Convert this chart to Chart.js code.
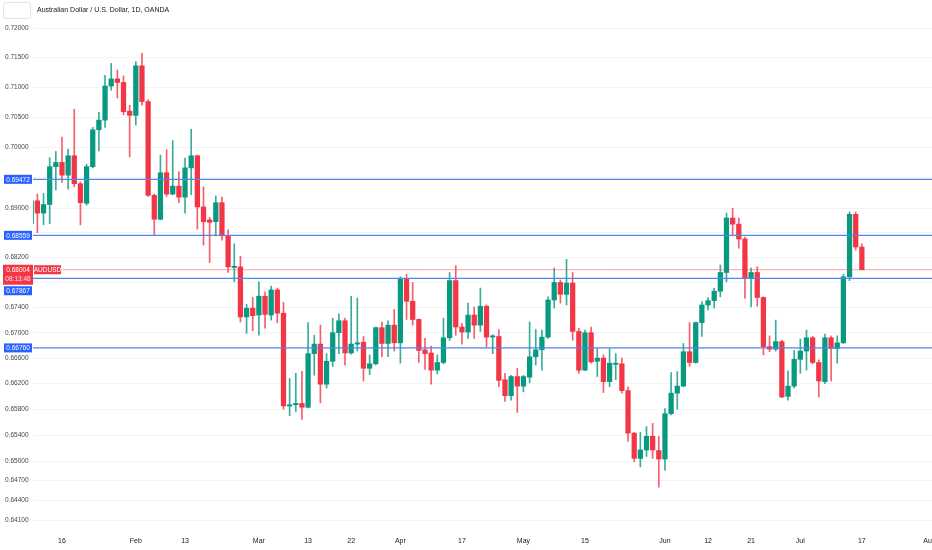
<!DOCTYPE html>
<html lang="en">
  <head>
    <meta charset="UTF-8" />
    <title>AUDUSD 1D</title>
    <style>
      html,
      body {
        margin: 0;
        padding: 0;
        background: #ffffff;
      }
      #wrap {
        position: relative;
        width: 932px;
        height: 550px;
      }
      #chart {
        position: absolute;
        left: 0;
        top: 0;
      }
      .logo {
        position: absolute;
        left: 3px;
        top: 2px;
        width: 26px;
        height: 15px;
        border: 1px solid #e0e3eb;
        border-radius: 3px;
        background: #fff;
      }
      .title {
        position: absolute;
        left: 37px;
        top: 6px;
        font: 7px "Liberation Sans", Arial, sans-serif;
        color: #131722;
        white-space: nowrap;
      }
    </style>
  </head>

  <body>
    <div id="wrap">
      <canvas id="chart" width="932" height="550"></canvas>
      <div class="logo"></div>
      <div class="title">Australian Dollar / U.S. Dollar, 1D, OANDA</div>
    </div>

    <script src="https://cdn.jsdelivr.net/npm/chart.js@4.4.1/dist/chart.umd.min.js"></script>

    <script>
      // daily candles, 9 Jan .. 17 Jul (one entry per trading day)
      const openP = [
        0.6875, 0.6912, 0.6892, 0.6906, 0.6968,
        0.6975, 0.6954, 0.6986, 0.694, 0.6908,
        0.6968, 0.7029, 0.7045, 0.7102, 0.7114,
        0.7108, 0.706, 0.7053, 0.7136, 0.7076,
        0.6921, 0.6882, 0.6958, 0.6923, 0.6936,
        0.6918, 0.6966, 0.6986, 0.6902, 0.6881,
        0.6878, 0.6909, 0.6855, 0.6804, 0.6805,
        0.6725, 0.6739, 0.6728, 0.6758, 0.6728,
        0.6768, 0.6731, 0.6585, 0.6587, 0.6589,
        0.6583, 0.6667, 0.6682, 0.6619, 0.6655,
        0.67, 0.6719, 0.6668, 0.6682, 0.6685,
        0.6644, 0.6651, 0.6708, 0.6683, 0.6712,
        0.6684, 0.6785, 0.675, 0.6721, 0.6673,
        0.6668, 0.6641, 0.6653, 0.6692, 0.6783,
        0.6709, 0.6701, 0.6728, 0.6712, 0.6742,
        0.6693, 0.6694, 0.6626, 0.6601, 0.6631,
        0.6616, 0.663, 0.6662, 0.6673, 0.6693,
        0.6752, 0.678, 0.6761, 0.6779, 0.6702,
        0.6641, 0.67, 0.6655, 0.666, 0.6623,
        0.665, 0.6651, 0.6609, 0.6543, 0.6504,
        0.6517, 0.6538, 0.6516, 0.6503, 0.6573,
        0.6605, 0.6616, 0.667, 0.6653, 0.6716,
        0.6744, 0.6751, 0.6766, 0.6796, 0.6884,
        0.6874, 0.685, 0.6787, 0.6796, 0.6756,
        0.6678, 0.6674, 0.6686, 0.66, 0.6616,
        0.6658, 0.6671, 0.6692, 0.6653, 0.6623,
        0.6692, 0.6675, 0.6684, 0.6789, 0.689,
        0.6837
      ];
      const highP = [
        0.6915, 0.6923, 0.6924, 0.6983, 0.6993,
        0.7017, 0.6997, 0.7063, 0.6943, 0.6972,
        0.7033, 0.7058, 0.712, 0.714, 0.7129,
        0.7119, 0.707, 0.7143, 0.7157, 0.7079,
        0.6923, 0.6987, 0.6996, 0.7011, 0.696,
        0.6982, 0.703, 0.6987, 0.6935, 0.6885,
        0.692, 0.6918, 0.6865, 0.6842, 0.6822,
        0.6745, 0.6756, 0.6781, 0.6765, 0.6774,
        0.6771, 0.6748, 0.6628, 0.6636, 0.6639,
        0.6716, 0.6696, 0.6712, 0.6667, 0.6723,
        0.673, 0.6723, 0.6758, 0.6755, 0.6694,
        0.6665, 0.6709, 0.6717, 0.6719, 0.6737,
        0.6789, 0.6793, 0.678, 0.6722, 0.6691,
        0.6679, 0.6665, 0.6723, 0.6796, 0.6807,
        0.6715, 0.6747, 0.6741, 0.6771, 0.6744,
        0.6697, 0.6705, 0.6636, 0.6633, 0.6644,
        0.6633, 0.6717, 0.6705, 0.6704, 0.6757,
        0.6803, 0.6784, 0.6817, 0.6796, 0.6707,
        0.6704, 0.6709, 0.6675, 0.6665, 0.6675,
        0.6667, 0.666, 0.6615, 0.6544, 0.6544,
        0.6553, 0.6558, 0.6538, 0.6581, 0.6637,
        0.6639, 0.6683, 0.6716, 0.6717, 0.6749,
        0.6756, 0.6771, 0.6808, 0.6892, 0.69,
        0.6884, 0.6853, 0.6803, 0.6805, 0.6757,
        0.6695, 0.672, 0.6688, 0.664, 0.6672,
        0.669, 0.6704, 0.6694, 0.6657, 0.6698,
        0.6695, 0.6695, 0.6793, 0.6894, 0.6894,
        0.6842
      ];
      const lowP = [
        0.6873, 0.686, 0.6873, 0.6875, 0.693,
        0.6942, 0.6931, 0.6935, 0.6873, 0.6905,
        0.6966, 0.6994, 0.7033, 0.7095, 0.7082,
        0.7054, 0.6984, 0.7037, 0.707, 0.6919,
        0.6856, 0.6881, 0.6919, 0.6922, 0.6909,
        0.6892, 0.6922, 0.6866, 0.684, 0.6812,
        0.6855, 0.6848, 0.6796, 0.6781, 0.6717,
        0.6699, 0.6703, 0.6696, 0.6707, 0.672,
        0.6716, 0.658, 0.657, 0.6576, 0.6564,
        0.6582, 0.6633, 0.659, 0.6613, 0.6647,
        0.6667, 0.6649, 0.6666, 0.6671, 0.6624,
        0.6634, 0.6649, 0.6662, 0.6662, 0.6671,
        0.6652, 0.6721, 0.6712, 0.6653, 0.6642,
        0.6619, 0.6635, 0.6651, 0.6688, 0.6696,
        0.6682, 0.6691, 0.6691, 0.6702, 0.6678,
        0.6667, 0.6615, 0.6592, 0.6594, 0.6575,
        0.6607, 0.6621, 0.6649, 0.6641, 0.6691,
        0.6739, 0.6747, 0.6744, 0.6688, 0.6636,
        0.664, 0.6652, 0.6631, 0.6606, 0.6615,
        0.6626, 0.6605, 0.653, 0.6499, 0.6491,
        0.6507, 0.6504, 0.646, 0.6486, 0.6571,
        0.658, 0.6615, 0.6647, 0.6652, 0.6694,
        0.6736, 0.6739, 0.6757, 0.6781, 0.6857,
        0.6835, 0.6755, 0.6741, 0.6742, 0.6665,
        0.667, 0.6671, 0.6598, 0.6594, 0.6613,
        0.6636, 0.6641, 0.6651, 0.6599, 0.662,
        0.6624, 0.6652, 0.6683, 0.6783, 0.6832,
        0.68004
      ];
      const closeP = [
        0.6912, 0.6892, 0.6906, 0.6968, 0.6975,
        0.6954, 0.6986, 0.694, 0.6909, 0.6968,
        0.7029, 0.7045, 0.7102, 0.7114, 0.7108,
        0.7059, 0.7053, 0.7136, 0.7076, 0.6921,
        0.6882, 0.6958, 0.6923, 0.6936, 0.6918,
        0.6966, 0.6986, 0.6902, 0.6878, 0.6877,
        0.6909, 0.6855, 0.6805, 0.6806, 0.6725,
        0.6739, 0.6727, 0.6758, 0.6729, 0.6768,
        0.6731, 0.6585, 0.6587, 0.6589, 0.6583,
        0.6667, 0.6682, 0.6619, 0.6655, 0.67,
        0.6719, 0.6668, 0.6682, 0.6684, 0.6644,
        0.6651, 0.6708, 0.6683, 0.6712, 0.6684,
        0.6785, 0.675, 0.6721, 0.6672, 0.6667,
        0.6641, 0.6653, 0.6692, 0.6783, 0.6709,
        0.6701, 0.6728, 0.6712, 0.6742, 0.6693,
        0.6695, 0.6625, 0.6601, 0.6631, 0.6616,
        0.6631, 0.6662, 0.6673, 0.6693, 0.6752,
        0.678, 0.6761, 0.6779, 0.6702, 0.6641,
        0.67, 0.6654, 0.666, 0.6623, 0.6652,
        0.6652, 0.6609, 0.6543, 0.6504, 0.6517,
        0.6538, 0.6517, 0.6503, 0.6573, 0.6605,
        0.6616, 0.667, 0.6653, 0.6716, 0.6744,
        0.6751, 0.6766, 0.6796, 0.6884, 0.6874,
        0.685, 0.6787, 0.6796, 0.6756, 0.6678,
        0.6674, 0.6686, 0.6599, 0.6616, 0.6658,
        0.6671, 0.6692, 0.6653, 0.6624, 0.6692,
        0.6675, 0.6684, 0.6789, 0.689, 0.6837,
        0.68004
      ];

      // date axis: trading-day index of each label
      const tickPos = [5, 17, 25, 37, 45, 52, 60, 70, 80, 90, 103, 110, 117, 125, 135, 146];
      const tickNames = ["16", "Feb", "13", "Mar", "13", "22", "Apr", "17", "May", "15", "Jun", "12", "21", "Jul", "17", "Aug"];

      // price axis
      const priceTicks = [0.72, 0.715, 0.71, 0.705, 0.7, 0.695, 0.69, 0.686, 0.682, 0.678, 0.674, 0.67, 0.666, 0.662, 0.658, 0.654, 0.65, 0.647, 0.644, 0.641];
      const hiddenTicks = [0.695, 0.686, 0.678];

      // horizontal lines drawn on the chart
      const levels = [0.69472, 0.68559, 0.67867, 0.6676];
      const lastPrice = 0.68004;
      const symbol = "AUDUSD";
      const countdown = "08:13:48";

      const xMin = 0.29;
      const xMax = 146.4;
      const yMin = 0.63919;
      const yMax = 0.72478;

      const up = "#089981";
      const down = "#f23645";

      const colors = closeP.map((c, i) => (c >= openP[i] ? up : down));
      const wickColors = closeP.map((c, i) =>
        c >= openP[i] ? "rgba(8,153,129,0.8)" : "rgba(242,54,69,0.8)"
      );

      const wicks = lowP.map((l, i) => ({ x: i, y: [l, highP[i]] }));
      const bodies = openP.map((o, i) => ({
        x: i,
        y: [Math.min(o, closeP[i]), Math.max(o, closeP[i])],
      }));

      const lineSets = levels.map((lv) => ({
        type: "line",
        data: [
          { x: xMin, y: lv },
          { x: xMax, y: lv },
        ],
        borderColor: "#4f86ec",
        borderWidth: 1.3,
        pointRadius: 0,
        order: 0,
      }));
      lineSets.push({
        type: "line",
        data: [
          { x: xMin, y: lastPrice },
          { x: xMax, y: lastPrice },
        ],
        borderColor: "rgba(242,54,69,0.45)",
        borderWidth: 1,
        pointRadius: 0,
        order: 0,
      });

      // price tags on the left axis
      const priceTags = {
        id: "priceTags",
        afterDraw(chart) {
          const ctx = chart.ctx;
          const ys = chart.scales.y;
          ctx.save();
          ctx.textBaseline = "middle";
          ctx.textAlign = "center";
          ctx.font = '6.5px "Liberation Sans", Arial';

          const py = ys.getPixelForValue(lastPrice);
          const boxTop = py - 5;
          const boxBottom = py + 15;

          levels.forEach((lv) => {
            let cy = ys.getPixelForValue(lv);
            if (cy + 5 > boxTop && cy - 5 < boxBottom) cy = boxBottom + 6;
            ctx.fillStyle = "#2962ff";
            ctx.fillRect(4, cy - 4.5, 28, 9);
            ctx.fillStyle = "#ffffff";
            ctx.fillText(lv.toFixed(5), 18, cy + 0.5);
          });

          ctx.fillStyle = down;
          ctx.fillRect(3, boxTop, 30, boxBottom - boxTop);
          ctx.fillRect(34, py - 4.5, 27, 9);
          ctx.fillStyle = "#ffffff";
          ctx.fillText(lastPrice.toFixed(5), 18, py + 0.5);
          ctx.fillText(symbol, 47.5, py + 0.5);
          ctx.fillStyle = "rgba(255,255,255,0.85)";
          ctx.fillText(countdown, 18, py + 9.5);
          ctx.restore();
        },
      };

      new Chart("chart", {
        type: "bar",
        data: {
          datasets: [
            ...lineSets,
            {
              data: wicks,
              backgroundColor: wickColors,
              barThickness: 1,
              grouped: false,
              order: 2,
            },
            {
              data: bodies,
              backgroundColor: colors,
              barThickness: 4.6,
              minBarLength: 1,
              grouped: false,
              order: 1,
            },
          ],
        },
        options: {
          responsive: false,
          animation: false,
          layout: { padding: { left: 5, top: 0, right: 0, bottom: 0 } },
          plugins: {
            legend: { display: false },
            tooltip: { enabled: false },
          },
          scales: {
            x: {
              type: "linear",
              min: xMin,
              max: xMax,
              offset: false,
              border: { display: false },
              grid: { display: false, drawTicks: false, offset: false },
              afterBuildTicks: (s) => {
                s.ticks = tickPos.map((v) => ({ value: v }));
              },
              afterFit: (s) => {
                s.height = 18;
                s.paddingLeft = 0;
                s.paddingRight = 0;
              },
              ticks: {
                autoSkip: false,
                maxRotation: 0,
                padding: 5,
                color: "#131722",
                font: { family: "Liberation Sans", size: 7 },
                callback: (v) => tickNames[tickPos.indexOf(v)],
              },
            },
            y: {
              type: "logarithmic",
              position: "left",
              min: yMin,
              max: yMax,
              border: { display: false },
              grid: { color: "rgba(42,46,57,0.05)", drawTicks: false },
              afterBuildTicks: (s) => {
                s.ticks = priceTicks.map((v) => ({ value: v }));
              },
              afterFit: (s) => {
                s.width = 28;
                s.paddingTop = 0;
                s.paddingBottom = 0;
              },
              ticks: {
                crossAlign: "far",
                padding: 0,
                color: "#434651",
                font: { family: "Liberation Sans", size: 6.5 },
                callback: (v) =>
                  hiddenTicks.includes(v) ? "" : v.toFixed(5),
              },
            },
          },
        },
        plugins: [priceTags],
      });
    </script>
  </body>
</html>
